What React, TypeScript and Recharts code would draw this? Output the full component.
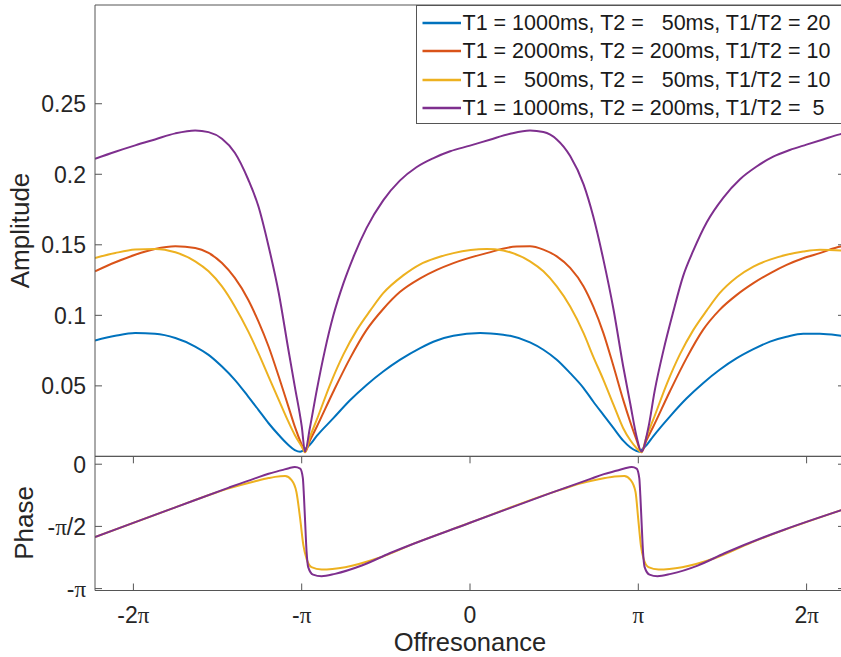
import React from 'react';
import { LineChart, Line, XAxis, YAxis, ReferenceLine, Legend } from 'recharts';

type Pt = [number, number];

const PI = Math.PI;

// offresonance (rad) -> amplitude
const blueAmp: Pt[] = [
  [-7.0, 0.0822], [-6.62, 0.0855], [-6.25, 0.0874], [-5.88, 0.0869], [-5.5, 0.0839],
  [-5.13, 0.0779], [-4.88, 0.072], [-4.63, 0.0637], [-4.39, 0.0543], [-4.14, 0.0424],
  [-3.95, 0.033], [-3.76, 0.0235], [-3.57, 0.0152], [-3.39, 0.0081], [-3.27, 0.0045],
  [-3.17, 0.0033], [-3.08, 0.0052], [-2.99, 0.0082], [-2.86, 0.0145], [-2.55, 0.0271],
  [-2.24, 0.0398], [-1.93, 0.0507], [-1.62, 0.0602], [-1.31, 0.0684], [-0.93, 0.0768],
  [-0.62, 0.0822], [-0.31, 0.0855], [0.19, 0.0874], [0.62, 0.0862], [0.75, 0.0855],
  [1.12, 0.0808], [1.37, 0.0756], [1.62, 0.0685], [1.87, 0.059], [2.12, 0.0484],
  [2.3, 0.0389], [2.49, 0.0294], [2.68, 0.02], [2.86, 0.0112], [2.99, 0.0065],
  [3.11, 0.0038], [3.16, 0.0033], [3.22, 0.0052], [3.3, 0.0082], [3.42, 0.0142],
  [3.73, 0.0282], [4.04, 0.041], [4.35, 0.0519], [4.66, 0.0614], [4.98, 0.0696],
  [5.29, 0.076], [5.6, 0.0814], [5.91, 0.0848], [6.22, 0.0869], [6.53, 0.0869],
  [6.92, 0.0855], [7.0, 0.0851],
];

const orangeAmp: Pt[] = [
  [-7.0, 0.1312], [-6.62, 0.1376], [-6.25, 0.143], [-5.88, 0.1471], [-5.5, 0.149],
  [-5.13, 0.1478], [-4.88, 0.1442], [-4.63, 0.1371], [-4.39, 0.1265], [-4.14, 0.1111],
  [-3.95, 0.0957], [-3.76, 0.0779], [-3.57, 0.0566], [-3.39, 0.0353], [-3.27, 0.0211],
  [-3.14, 0.0081], [-3.08, 0.003], [-2.99, 0.011], [-2.86, 0.021], [-2.55, 0.046],
  [-2.24, 0.0695], [-1.93, 0.0897], [-1.62, 0.1045], [-1.31, 0.1165], [-0.93, 0.1262],
  [-0.62, 0.1322], [-0.31, 0.137], [0.31, 0.1441], [0.87, 0.1488], [1.12, 0.149],
  [1.37, 0.1466], [1.62, 0.1418], [1.87, 0.1336], [2.12, 0.1205], [2.3, 0.1063],
  [2.49, 0.0874], [2.68, 0.0637], [2.86, 0.0401], [2.99, 0.0246], [3.11, 0.0116],
  [3.2, 0.003], [3.29, 0.011], [3.42, 0.021], [3.73, 0.046], [4.04, 0.0695],
  [4.35, 0.0897], [4.66, 0.1039], [4.98, 0.1145], [5.29, 0.1228], [5.6, 0.1298],
  [5.91, 0.1358], [6.22, 0.1405], [6.53, 0.1441], [6.92, 0.1488], [7.0, 0.1492],
];

const yellowAmp: Pt[] = [
  [-7.0, 0.1407], [-6.62, 0.1442], [-6.25, 0.1466], [-5.88, 0.1471], [-5.5, 0.1447],
  [-5.13, 0.1383], [-4.88, 0.1312], [-4.63, 0.1205], [-4.39, 0.1063], [-4.14, 0.0886],
  [-3.95, 0.0732], [-3.76, 0.0566], [-3.57, 0.0401], [-3.39, 0.0246], [-3.27, 0.0152],
  [-3.14, 0.0069], [-3.08, 0.003], [-2.99, 0.0135], [-2.86, 0.026], [-2.6, 0.052],
  [-2.36, 0.0725], [-2.11, 0.0897], [-1.86, 0.1035], [-1.62, 0.1157], [-1.24, 0.1285],
  [-0.93, 0.1362], [-0.62, 0.1408], [-0.31, 0.1441], [0.31, 0.147], [0.62, 0.146],
  [0.75, 0.1447], [1.12, 0.1383], [1.37, 0.1312], [1.62, 0.1205], [1.87, 0.1063],
  [2.12, 0.0874], [2.3, 0.0708], [2.49, 0.0543], [2.68, 0.0365], [2.86, 0.02],
  [2.99, 0.0116], [3.11, 0.0058], [3.2, 0.003], [3.29, 0.0135], [3.42, 0.026],
  [3.68, 0.052], [3.92, 0.0725], [4.17, 0.0897], [4.42, 0.1035], [4.66, 0.1157],
  [4.98, 0.127], [5.29, 0.1346], [5.6, 0.1395], [5.91, 0.1429], [6.22, 0.1452],
  [6.53, 0.1465], [6.92, 0.146], [7.0, 0.1458],
];

const purpleAmp: Pt[] = [
  [-7.0, 0.211], [-6.62, 0.216], [-6.25, 0.2205], [-5.88, 0.2247], [-5.5, 0.229],
  [-5.13, 0.2311], [-4.88, 0.2299], [-4.63, 0.2252], [-4.39, 0.2153], [-4.14, 0.1963],
  [-3.95, 0.1773], [-3.76, 0.149], [-3.57, 0.1158], [-3.39, 0.0756], [-3.27, 0.0495],
  [-3.14, 0.0211], [-3.08, 0.0034], [-2.99, 0.02], [-2.86, 0.047], [-2.71, 0.075],
  [-2.55, 0.1], [-2.36, 0.123], [-2.18, 0.141], [-1.93, 0.162], [-1.62, 0.1815],
  [-1.31, 0.1955], [-1.0, 0.205], [-0.68, 0.2115], [-0.37, 0.2163], [0.0, 0.2203],
  [0.37, 0.2245], [0.75, 0.2287], [1.12, 0.231], [1.37, 0.2299], [1.62, 0.2247],
  [1.87, 0.2129], [2.12, 0.1928], [2.3, 0.1702], [2.49, 0.1395], [2.68, 0.104],
  [2.86, 0.0637], [2.99, 0.0377], [3.11, 0.014], [3.2, 0.0034], [3.33, 0.0205],
  [3.45, 0.047], [3.61, 0.075], [3.79, 0.102], [3.98, 0.128], [4.17, 0.146],
  [4.42, 0.166], [4.73, 0.1835], [5.04, 0.1965], [5.35, 0.2055], [5.66, 0.2125],
  [5.97, 0.2172], [6.28, 0.221], [6.59, 0.2247], [6.9, 0.2283], [7.0, 0.229],
];

// offresonance (rad) -> phase (rad); blue/orange lie under yellow/purple
const yellowPhase: Pt[] = [
  [-7.0, -1.84], [-5.5, -1.09], [-4.75, -0.72], [-4.5, -0.61], [-4.01, -0.43],
  [-3.76, -0.35], [-3.64, -0.32], [-3.45, -0.3], [-3.33, -0.4], [-3.24, -0.7],
  [-3.17, -1.38], [-3.11, -2.05], [-3.05, -2.39], [-2.96, -2.6], [-2.77, -2.66],
  [-2.33, -2.6], [-1.71, -2.37], [-1.0, -1.98], [0.0, -1.48], [1.5, -0.73],
  [1.75, -0.62], [2.0, -0.51], [2.27, -0.42], [2.52, -0.35], [2.7, -0.31],
  [2.88, -0.3], [3.0, -0.4], [3.09, -0.7], [3.14, -1.38], [3.19, -2.05],
  [3.24, -2.39], [3.33, -2.6], [3.52, -2.66], [3.96, -2.6], [4.58, -2.37],
  [5.25, -1.98], [7.0, -1.13],
];

const purplePhase: Pt[] = [
  [-7.0, -1.84], [-5.5, -1.09], [-4.5, -0.59], [-4.0, -0.35], [-3.76, -0.24],
  [-3.51, -0.15], [-3.38, -0.1], [-3.27, -0.07], [-3.17, -0.11], [-3.12, -0.35],
  [-3.1, -0.8], [-3.08, -1.38], [-3.05, -2.22], [-3.02, -2.6], [-2.93, -2.79],
  [-2.77, -2.83], [-2.52, -2.77], [-2.02, -2.56], [-1.5, -2.25], [0.0, -1.48],
  [1.5, -0.73], [2.25, -0.37], [2.5, -0.25], [2.75, -0.16], [2.88, -0.11],
  [3.02, -0.07], [3.11, -0.11], [3.16, -0.35], [3.18, -0.8], [3.2, -1.38],
  [3.23, -2.22], [3.26, -2.6], [3.35, -2.79], [3.5, -2.83], [3.75, -2.77],
  [4.25, -2.56], [4.75, -2.25], [7.0, -1.13],
];

const seriesNames = [
  'T1 = 1000ms, T2 =   50ms, T1/T2 = 20',
  'T1 = 2000ms, T2 = 200ms, T1/T2 = 10',
  'T1 =   500ms, T2 =   50ms, T1/T2 = 10',
  'T1 = 1000ms, T2 = 200ms, T1/T2 =  5',
];
const seriesColors = ['#0072BD', '#D95319', '#EDB120', '#7E2F8E'];

const ampTicks = [0.05, 0.1, 0.15, 0.2, 0.25];
const phaseTicks = [-PI, -PI / 2, 0];
const phaseTickLabels = ['-π', '-π/2', '0'];
const xTicks = [-2 * PI, -PI, 0, PI, 2 * PI];
const xTickLabels = ['-2π', '-π', '0', 'π', '2π'];

const toRows = (pts: Pt[]) => pts.map(([x, y]) => ({ x, y }));

// layout
const W = 870;
const LEFT = 95;
const RIGHT = 845;
const TICK = 7;
const BOT_TOP = 16.3; // phase plot top inside its chart
const FONT = '"Liberation Sans", Arial, Helvetica, sans-serif';
const SERIF = '"Liberation Serif", "Times New Roman", serif';
const INK = '#262626';
const AXIS = '#555555';
const TICK_FS = 23;
const LABEL_FS = 26;

function piText(s: string) {
  return s
    .split(/(π)/)
    .filter((p) => p !== '')
    .map((p, i) =>
      p === 'π' ? (
        <tspan key={i} fontFamily={SERIF}>π</tspan>
      ) : (
        <tspan key={i}>{p}</tspan>
      )
    );
}

function AmpTick(props: any) {
  const { x, y, payload } = props;
  return (
    <g>
      <line x1={x} x2={x + TICK} y1={y} y2={y} stroke={AXIS} />
      <line x1={RIGHT - TICK} x2={RIGHT} y1={y} y2={y} stroke={AXIS} />
      <text x={x - 9} y={y + 8.5} textAnchor="end" fontSize={TICK_FS} fill={INK} fontFamily={FONT}>
        {String(payload.value)}
      </text>
    </g>
  );
}

function PhaseTick(props: any) {
  const { x, y, index } = props;
  return (
    <g>
      <line x1={x} x2={x + TICK} y1={y} y2={y} stroke={AXIS} />
      <line x1={RIGHT - TICK} x2={RIGHT} y1={y} y2={y} stroke={AXIS} />
      <text x={x - 9} y={y + 8.5} textAnchor="end" fontSize={TICK_FS} fill={INK} fontFamily={FONT}>
        {piText(phaseTickLabels[index])}
      </text>
    </g>
  );
}

function XTick(props: any) {
  const { x, y, index } = props;
  return (
    <g>
      <line x1={x} x2={x} y1={y} y2={y - TICK} stroke={AXIS} />
      <line x1={x} x2={x} y1={BOT_TOP} y2={BOT_TOP + TICK} stroke={AXIS} />
      <text x={x} y={y + 32} textAnchor="middle" fontSize={TICK_FS} fill={INK} fontFamily={FONT}>
        {piText(xTickLabels[index])}
      </text>
    </g>
  );
}

const renderLegend = () => (
  <div
    style={{
      position: 'relative',
      width: 432,
      height: 119,
      boxSizing: 'border-box',
      border: `1px solid ${AXIS}`,
      background: '#fff',
      fontFamily: FONT,
      fontSize: 21.5,
      color: '#1a1a1a',
    }}
  >
    {seriesNames.map((name, i) => (
      <div
        key={name}
        style={{
          position: 'absolute',
          left: 0,
          top: 3.8 + i * 28.1,
          height: 28,
          display: 'flex',
          alignItems: 'center',
          whiteSpace: 'pre',
        }}
      >
        <svg width={46} height={28} style={{ display: 'block' }}>
          <line x1={5.5} x2={44} y1={14} y2={14} stroke={seriesColors[i]} strokeWidth={2.5} />
        </svg>
        <span style={{ lineHeight: '28px' }}>{name}</span>
      </div>
    ))}
  </div>
);

const ampSeries = [blueAmp, orangeAmp, yellowAmp, purpleAmp];
const phaseSeries = [
  { pts: yellowPhase, color: seriesColors[2], name: seriesNames[2] },
  { pts: purplePhase, color: seriesColors[3], name: seriesNames[3] },
];

export default function App() {
  return (
    <div
      style={{
        position: 'absolute',
        left: 0,
        top: 0,
        width: 841,
        height: 657,
        overflow: 'hidden',
        background: '#fff',
      }}
    >
      <div style={{ position: 'absolute', left: 0, top: 0 }}>
        <LineChart width={W} height={460} margin={{ top: 5, right: W - RIGHT, bottom: 3.6, left: 0 }}>
          <XAxis type="number" dataKey="x" domain={[-7, 7]} allowDataOverflow hide />
          <YAxis
            type="number"
            domain={[0, 0.32]}
            allowDataOverflow
            ticks={ampTicks}
            interval={0}
            width={LEFT}
            tickSize={0}
            tickMargin={0}
            tickLine={false}
            axisLine={{ stroke: AXIS }}
            tick={<AmpTick />}
            label={() => (
              <text
                x={29}
                y={230.5}
                transform="rotate(-90 29 230.5)"
                textAnchor="middle"
                fontSize={LABEL_FS}
                fill={INK}
                fontFamily={FONT}
              >
                Amplitude
              </text>
            )}
          />
          <ReferenceLine y={0.32} stroke={AXIS} />
          <ReferenceLine y={0} stroke={AXIS} />
          <Legend
            layout="horizontal"
            verticalAlign="middle"
            align="center"
            wrapperStyle={{ left: 415.5, top: 4.5, width: 432, height: 119, margin: 0 }}
            content={renderLegend}
          />
          {ampSeries.map((pts, i) => (
            <Line
              key={seriesNames[i]}
              data={toRows(pts)}
              dataKey="y"
              name={seriesNames[i]}
              type="monotone"
              stroke={seriesColors[i]}
              strokeWidth={2}
              dot={false}
              activeDot={false}
              isAnimationActive={false}
            />
          ))}
        </LineChart>
      </div>

      <div style={{ position: 'absolute', left: 0, top: 440 }}>
        <LineChart width={W} height={217} margin={{ top: BOT_TOP, right: W - RIGHT, bottom: 6.5, left: 0 }}>
          <XAxis
            type="number"
            dataKey="x"
            domain={[-7, 7]}
            allowDataOverflow
            ticks={xTicks}
            interval={0}
            height={60}
            tickSize={0}
            tickMargin={0}
            tickLine={false}
            axisLine={{ stroke: AXIS }}
            tick={<XTick />}
            label={() => (
              <text x={470} y={210.5} textAnchor="middle" fontSize={25.5} fill={INK} fontFamily={FONT}>
                Offresonance
              </text>
            )}
          />
          <YAxis
            type="number"
            domain={[-3.19, 0.2]}
            allowDataOverflow
            ticks={phaseTicks}
            interval={0}
            width={LEFT}
            tickSize={0}
            tickMargin={0}
            tickLine={false}
            axisLine={{ stroke: AXIS }}
            tick={<PhaseTick />}
            label={() => (
              <text
                x={33}
                y={83}
                transform="rotate(-90 33 83)"
                textAnchor="middle"
                fontSize={LABEL_FS}
                fill={INK}
                fontFamily={FONT}
              >
                Phase
              </text>
            )}
          />
          <ReferenceLine y={0.2} stroke={AXIS} />
          {phaseSeries.map((s) => (
            <Line
              key={s.name}
              data={toRows(s.pts)}
              dataKey="y"
              name={s.name}
              type="monotone"
              stroke={s.color}
              strokeWidth={2}
              dot={false}
              activeDot={false}
              isAnimationActive={false}
            />
          ))}
        </LineChart>
      </div>
    </div>
  );
}
